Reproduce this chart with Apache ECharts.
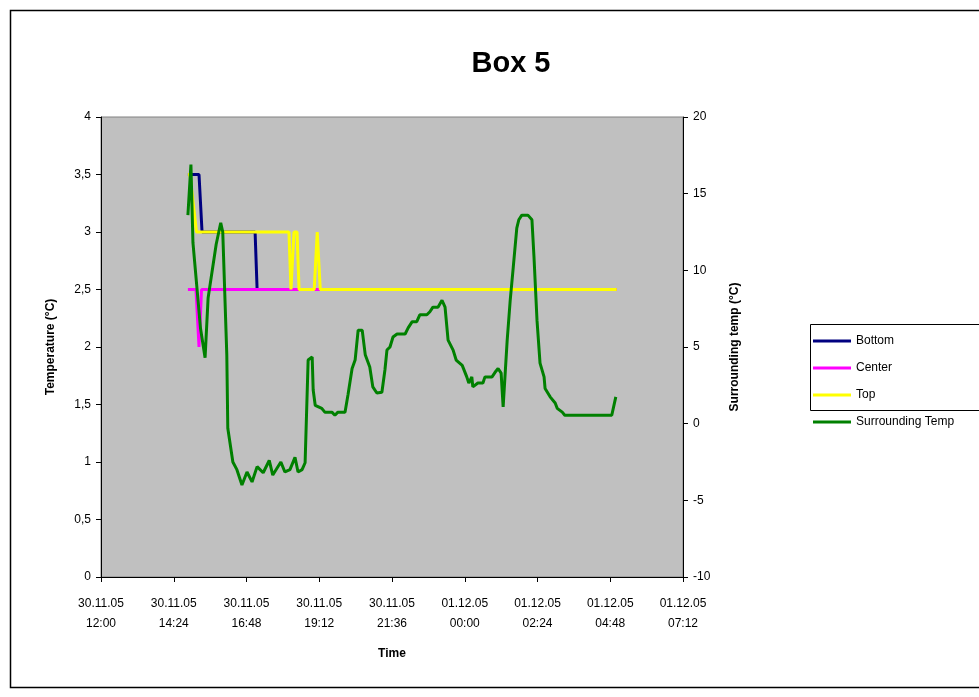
<!DOCTYPE html>
<html>
<head>
<meta charset="utf-8">
<script src="https://cdn.jsdelivr.net/npm/echarts@6/dist/echarts.min.js"></script>
<style>
html,body{margin:0;padding:0;background:#fff;}
#c{width:979px;height:697px;}
</style>
</head>
<body>
<div id="c"></div>
<script>
// Time axis: minutes after 30.11.05 12:00
var xTickLabels = ['30.11.05\n12:00','30.11.05\n14:24','30.11.05\n16:48','30.11.05\n19:12','30.11.05\n21:36','01.12.05\n00:00','01.12.05\n02:24','01.12.05\n04:48','01.12.05\n07:12'];

var bottomTime = [172, 194, 200, 305, 309, 1021];
var bottomVal  = [3.5, 3.5, 3.0, 3.0, 2.5, 2.5];

var centerTime = [172, 188, 194, 199, 1021];
var centerVal  = [2.5, 2.5, 2.0, 2.5, 2.5];

var topTime = [172, 176, 189, 372, 376, 382, 388, 392, 422, 428, 434, 1021];
var topVal  = [3.5, 3.5, 3.0, 3.0, 2.5, 3.0, 3.0, 2.5, 2.5, 3.0, 2.5, 2.5];

var surrTime = [172,178,182,197,206,212,228,237,241,249,251,261,269,279,289,299,309,321,333,340,356,364,374,384,390,398,404,410,418,420,424,437,443,457,463,469,483,489,497,503,509,517,523,532,538,546,556,562,566,572,578,586,602,608,616,625,631,645,651,657,667,675,681,687,697,703,715,724,728,734,736,746,756,760,774,780,786,792,796,804,810,816,823,827,833,845,853,857,863,869,877,879,889,899,903,913,918,1011,1019];
var surrVal  = [13.6,16.9,11.8,6.2,4.3,8.2,11.7,13.1,12.5,4.5,-0.3,-2.5,-3.0,-4.0,-3.15,-3.8,-2.8,-3.2,-2.4,-3.35,-2.5,-3.15,-3.0,-2.2,-3.15,-3.0,-2.55,4.15,4.35,2.2,1.2,1.0,0.75,0.75,0.55,0.75,0.75,1.9,3.6,4.15,6.1,6.1,4.5,3.7,2.4,2.0,2.05,3.5,4.8,5.0,5.65,5.85,5.85,6.25,6.65,6.65,7.1,7.1,7.3,7.6,7.6,8.05,7.6,5.45,4.8,4.15,3.8,3.05,2.65,3.05,2.4,2.65,2.65,3.05,3.05,3.35,3.6,3.3,1.1,5.45,8.05,10.2,12.75,13.3,13.6,13.6,13.3,10.9,6.75,3.95,3.05,2.3,1.75,1.35,1.0,0.75,0.55,0.55,1.75];

function pairs(t, v){ return t.map(function(x,i){ return [x, v[i]]; }); }

var FONT = 'Arial, "Liberation Sans", sans-serif';
var chart = echarts.init(document.getElementById('c'), null, {renderer:'canvas'});
chart.setOption({
  animation: false,
  backgroundColor: '#ffffff',
  title: {
    text: 'Box 5', left: 506, top: 44, textAlign: 'center',
    textStyle: {fontFamily: FONT, fontSize: 29, fontWeight: 'bold', color: '#000'}
  },
  graphic: [{
    type: 'rect', silent: true, z: -1,
    shape: {x: 10.5, y: 10.5, width: 1000, height: 677},
    style: {fill: 'none', stroke: '#000', lineWidth: 1.5}
  }, {
    type: 'rect', silent: true, z: 0,
    shape: {x: 810.5, y: 324.5, width: 200, height: 86},
    style: {fill: 'none', stroke: '#000', lineWidth: 1}
  }],
  legend: {
    orient: 'vertical', left: 810, top: 324,
    padding: [11, 5, 5, 3], itemGap: 15,
    itemWidth: 38, itemHeight: 3, icon: 'rect',
    textStyle: {fontFamily: FONT, fontSize: 12, color: '#000'},
    data: ['Bottom','Center','Top','Surrounding Temp']
  },
  grid: {left: 101, top: 117, right: 296, bottom: 120, show: true, backgroundColor: '#C0C0C0', borderColor: '#808080', borderWidth: 1},
  xAxis: {
    type: 'value', min: 0, max: 1152, interval: 144,
    name: 'Time', nameLocation: 'middle', nameGap: 71,
    nameTextStyle: {fontFamily: FONT, fontSize: 12, fontWeight: 'bold', color: '#000'},
    axisLine: {lineStyle: {color: '#000', width: 1}},
    axisTick: {show: true, length: 5, lineStyle: {color: '#000'}},
    splitLine: {show: false},
    axisLabel: {
      fontFamily: FONT, fontSize: 12, color: '#000', margin: 17, lineHeight: 20,
      formatter: function(v){ return xTickLabels[Math.round(v/144)] || ''; }
    }
  },
  yAxis: [{
    type: 'value', min: 0, max: 4, interval: 0.5, position: 'left',
    name: 'Temperature (°C)', nameLocation: 'middle', nameGap: 44, nameRotate: 90,
    nameTextStyle: {fontFamily: FONT, fontSize: 12, fontWeight: 'bold', color: '#000'},
    axisLine: {show: true, lineStyle: {color: '#000', width: 1}},
    axisTick: {show: true, length: 5, lineStyle: {color: '#000'}},
    splitLine: {show: false},
    axisLabel: {fontFamily: FONT, fontSize: 12, color: '#000', margin: 10,
      formatter: function(v){ return String(v).replace('.', ','); }}
  }, {
    type: 'value', min: -10, max: 20, interval: 5, position: 'right',
    name: 'Surrounding temp (°C)', nameLocation: 'middle', nameGap: 46, nameRotate: 90,
    nameTextStyle: {fontFamily: FONT, fontSize: 12, fontWeight: 'bold', color: '#000'},
    axisLine: {show: true, lineStyle: {color: '#000', width: 1}},
    axisTick: {show: true, length: 5, lineStyle: {color: '#000'}},
    splitLine: {show: false},
    axisLabel: {fontFamily: FONT, fontSize: 12, color: '#000', margin: 10}
  }],
  series: [
    {name: 'Bottom', type: 'line', yAxisIndex: 0, data: pairs(bottomTime, bottomVal), showSymbol: false, symbol: 'none', color: '#000080', lineStyle: {width: 3}},
    {name: 'Center', type: 'line', yAxisIndex: 0, data: pairs(centerTime, centerVal), showSymbol: false, symbol: 'none', color: '#FF00FF', lineStyle: {width: 3}},
    {name: 'Top', type: 'line', yAxisIndex: 0, data: pairs(topTime, topVal), showSymbol: false, symbol: 'none', color: '#FFFF00', lineStyle: {width: 3}},
    {name: 'Surrounding Temp', type: 'line', yAxisIndex: 1, data: pairs(surrTime, surrVal), showSymbol: false, symbol: 'none', color: '#008000', lineStyle: {width: 3}}
  ]
});
</script>
</body>
</html>
